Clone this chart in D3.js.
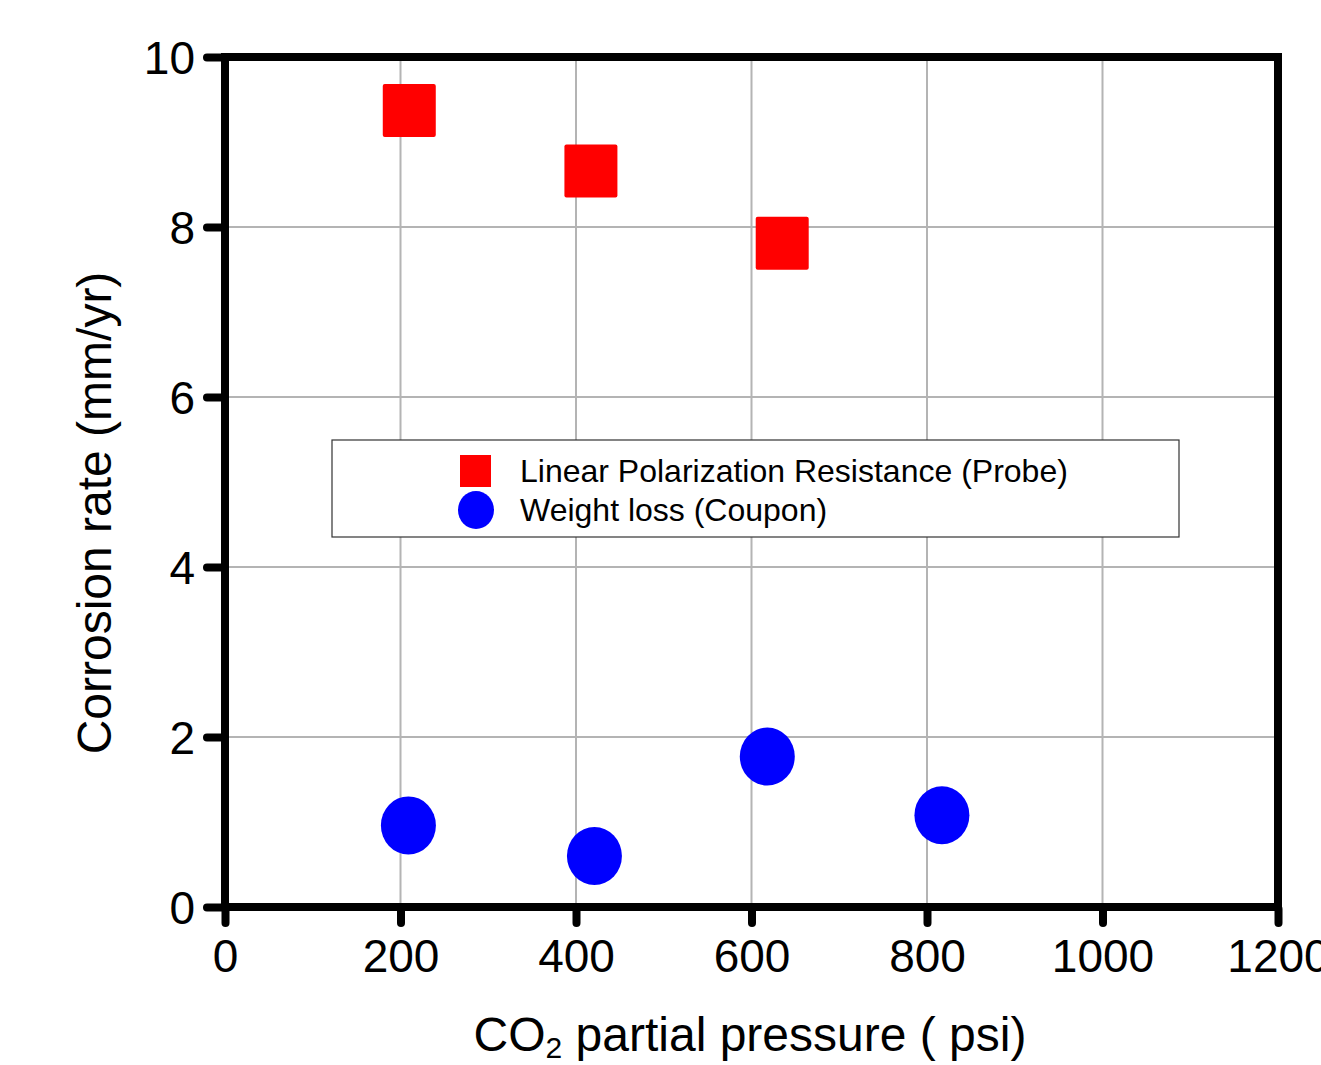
<!DOCTYPE html>
<html>
<head>
<meta charset="utf-8">
<script src="https://cdn.jsdelivr.net/npm/d3@7"></script>
<style>
  body { margin: 0; background: #fff; }
  text { font-family: "Liberation Sans", Arial, sans-serif; fill: #000; }
</style>
</head>
<body>
<div id="chart"></div>
<script>
// CO2 partial pressure (psi) vs corrosion rate (mm/yr)
var lprPressure = [210, 417, 635];
var lprRate = [9.37, 8.66, 7.81];
var wlPressure = [209, 421, 618, 817];
var wlRate = [0.96, 0.6, 1.77, 1.08];
var xTicks = [0, 200, 400, 600, 800, 1000, 1200];
var yTicks = [0, 2, 4, 6, 8, 10];
var seriesNames = ["Linear Polarization Resistance (Probe)", "Weight loss (Coupon)"];

(function () {
	var width = 1321;
	var height = 1065;
	var margin = {left: 225, top: 57, right: 43, bottom: 158};
	var w = width - margin.left - margin.right;
	var h = height - margin.top - margin.bottom;

	var svg = d3.select("#chart")
	   .append("svg")
	   .attr("width", width)
	   .attr("height", height)

	var g = svg.append("g")
	   .attr("transform", "translate(" + margin.left + "," + margin.top + ")")

	var x = d3.scaleLinear().domain([0, 1200]).range([0, w])
	var y = d3.scaleLinear().domain([0, 10]).range([h, 0])

	// gridlines
	g.append("g").selectAll("line")
	  .data(xTicks.slice(1, -1))
	  .enter().append("line")
	  .attr("x1", function (d) { return x(d) })
	  .attr("x2", function (d) { return x(d) })
	  .attr("y1", 0).attr("y2", h)
	  .attr("stroke", "#b4b4b4").attr("stroke-width", 2)

	g.append("g").selectAll("line")
	  .data(yTicks.slice(1, -1))
	  .enter().append("line")
	  .attr("y1", function (d) { return y(d) })
	  .attr("y2", function (d) { return y(d) })
	  .attr("x1", 0).attr("x2", w)
	  .attr("stroke", "#b4b4b4").attr("stroke-width", 2)

	// legend box (white, over the grid)
	var legend = g.append("g").attr("transform", "translate(107,383)")
	legend.append("rect")
	  .attr("width", 847).attr("height", 97)
	  .attr("fill", "#fff").attr("stroke", "#333").attr("stroke-width", 1.2)
	legend.append("rect")
	  .attr("x", 128).attr("y", 15).attr("width", 31).attr("height", 32)
	  .attr("fill", "#ff0000")
	legend.append("ellipse")
	  .attr("cx", 144).attr("cy", 70).attr("rx", 18).attr("ry", 19)
	  .attr("fill", "#0000ff")
	legend.selectAll("text.lab")
	  .data(seriesNames)
	  .enter().append("text")
	  .attr("class", "lab")
	  .attr("x", 188)
	  .attr("y", function (d, i) { return 42 + i * 39 })
	  .style("font-size", "32px")
	  .text(function (d) { return d })

	// points
	var sq = 53;
	g.append("g").selectAll("rect")
	  .data(lprPressure)
	  .enter().append("rect")
	  .attr("x", function (d) { return x(d) - sq / 2 })
	  .attr("y", function (d, i) { return y(lprRate[i]) - sq / 2 })
	  .attr("width", sq).attr("height", sq)
	  .attr("rx", 2)
	  .attr("fill", "#ff0000")

	g.append("g").selectAll("ellipse")
	  .data(wlPressure)
	  .enter().append("ellipse")
	  .attr("cx", function (d) { return x(d) })
	  .attr("cy", function (d, i) { return y(wlRate[i]) })
	  .attr("rx", 27.5).attr("ry", 29)
	  .attr("fill", "#0000ff")

	// frame
	g.append("rect")
	  .attr("width", w).attr("height", h)
	  .attr("fill", "none").attr("stroke", "#000").attr("stroke-width", 8)

	// axes
	var xAxis = g.append("g")
	  .attr("transform", "translate(0," + h + ")")
	  .call(d3.axisBottom(x).tickValues(xTicks).tickFormat(d3.format("d")).tickSize(18).tickPadding(14))
	var yAxis = g.append("g")
	  .call(d3.axisLeft(y).tickValues(yTicks).tickFormat(d3.format("d")).tickSize(20).tickPadding(10))

	xAxis.select(".domain").remove()
	yAxis.select(".domain").remove()
	;[xAxis, yAxis].forEach(function (a) {
	  a.selectAll(".tick line")
	    .attr("stroke", "#000").attr("stroke-width", 8).attr("stroke-linecap", "round")
	  a.selectAll(".tick text")
	    .style("font-size", "46px")
	    .style("font-family", "'Liberation Sans', Arial, sans-serif")
	})
	xAxis.selectAll(".tick line").attr("y1", 2).attr("y2", 16)
	yAxis.selectAll(".tick line").attr("x1", -2).attr("x2", -18)
	yAxis.selectAll(".tick text").attr("dy", "0.36em")

	// axis titles
	var xt = svg.append("text")
	  .attr("x", 750)
	  .attr("y", 1051)
	  .attr("text-anchor", "middle")
	  .style("font-size", "48px")
	xt.append("tspan").text("CO")
	xt.append("tspan").attr("dy", 7).style("font-size", "30px").text("2")
	xt.append("tspan").attr("dy", -7).text(" partial pressure ( psi)")

	svg.append("text")
	  .attr("transform", "translate(111," + 513 + ") rotate(-90)")
	  .attr("text-anchor", "middle")
	  .style("font-size", "48px")
	  .text("Corrosion rate (mm/yr)")
})();
</script>
</body>
</html>
